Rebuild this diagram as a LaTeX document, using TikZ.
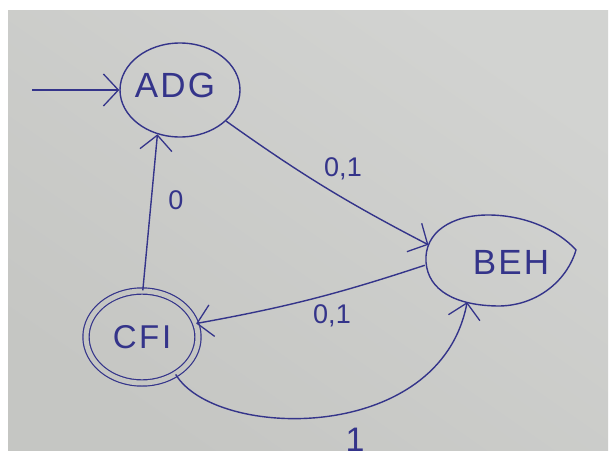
\documentclass[tikz,border=0pt]{standalone}
\usepackage{fontspec}
\setmainfont{Liberation Sans}
\usetikzlibrary{arrows.meta,shapes.geometric}
\definecolor{paper}{RGB}{197,198,195}
\definecolor{paperlight}{RGB}{210,211,209}
\definecolor{ink}{RGB}{52,52,138}
\tikzset{
  statefont/.style={font=\fontsize{35}{35}\selectfont\addfontfeature{LetterSpace=6}},
  state/.style={ellipse,draw=ink,line width=1.4pt,inner sep=0pt,text=ink,statefont},
  edge/.style={draw=ink,line width=1.4pt,
    -{Straight Barb[length=15pt,width=32pt,line width=1.3pt]}},
  lab/.style={text=ink,font=\fontsize{27}{27}\selectfont,inner sep=0pt}
}
\begin{document}
\begin{tikzpicture}[x=1pt,y=-1pt]
  % sheet of paper on a white ground
  \fill[white] (0,0) rectangle (611,461);
  \shade[bottom color=paper,top color=paperlight,shading angle=-35]
    (8,10) rectangle (608,450);
  \useasboundingbox (0,0) rectangle (611,461);

  % states
  \node[state,minimum width=120pt,minimum height=94pt] (ADG) at (180,90) {};
  \node[text=ink,statefont] at (175,85) {ADG};
  \node[state,draw=none,minimum width=150pt,minimum height=92pt] (BEH) at (500,260) {};
  \node[text=ink,statefont] at (511,262) {BEH};
  \draw[ink,line width=1.4pt]
    (426,262) .. controls (424,232) and (452,215) .. (488,215)
    .. controls (525,215) and (558,230) .. (576,250)
    .. controls (568,278) and (540,305) .. (500,306)
    .. controls (455,306) and (428,290) .. (426,262) -- cycle;
  \node[state,double=paper,double distance=5pt,line width=1.2pt,
    minimum width=112pt,minimum height=92pt,
    font=\fontsize{33}{33}\selectfont\addfontfeature{LetterSpace=8}] (CFI) at (142,337) {CFI};

  % start arrow
  \coordinate (start) at (32,90);
  \draw[edge] (start) -- (ADG.west);

  % transitions
  \draw[edge] (ADG.326) to[bend right=4] (BEH.168);
  \draw[edge] (BEH.184) to[bend left=4] (CFI.14);
  \draw[edge] (CFI.89) -- (ADG.243);
  \draw[edge] (CFI.312) .. controls (215,440) and (440,445) .. (BEH.232);

  % labels
  \node[lab] at (343,169) {0,1};
  \node[lab] at (332,316) {0,1};
  \node[lab] at (176,200) {0};
  \node[lab,font=\fontsize{34}{34}\selectfont] at (355,440) {1};
\end{tikzpicture}
\end{document}
